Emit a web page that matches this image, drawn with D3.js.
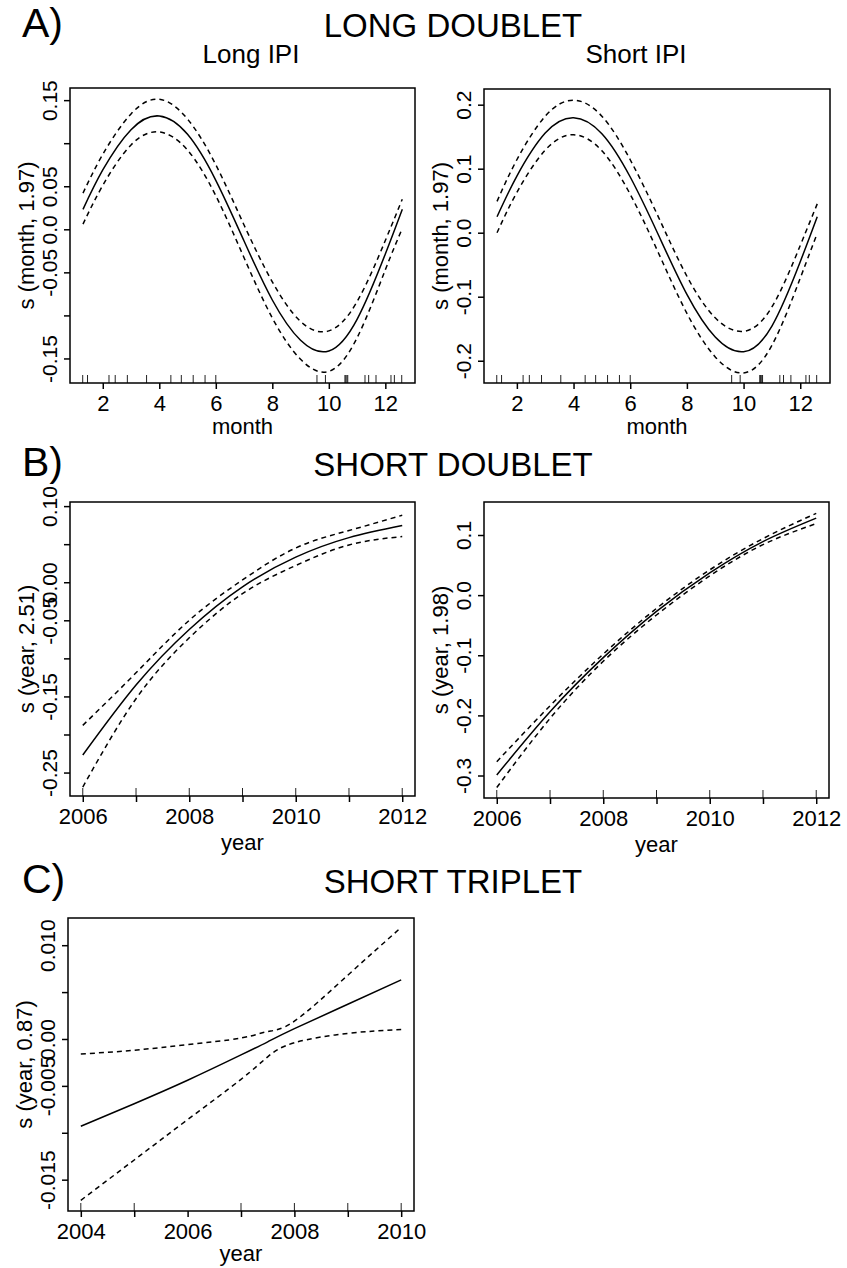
<!DOCTYPE html>
<html>
<head>
<meta charset="utf-8">
<script src="https://cdn.jsdelivr.net/npm/d3@7"></script>
<style>
  body { margin: 0; background: #fff; }
  text { font-family: "Liberation Sans", Arial, Helvetica, sans-serif; fill: #000; }
</style>
</head>
<body>
<div id="root"></div>
<script>
// DATA
// panel A : month smooths (long doublet)
const monthA = [1.3, 2, 3, 4, 5, 6, 7, 8, 9, 10, 11, 12, 12.6];
const longFit   = [0.0232, 0.0689, 0.1157, 0.1316, 0.1103, 0.0569, -0.0136, -0.0821, -0.1289, -0.1413, -0.1045, -0.0286, 0.0232];
const longUpper = [0.042, 0.087, 0.134, 0.151, 0.128, 0.075, 0.005, -0.061, -0.107, -0.118, -0.084, -0.013, 0.035];
const longLower = [0.006, 0.051, 0.098, 0.113, 0.092, 0.039, -0.033, -0.103, -0.151, -0.165, -0.126, -0.047, 0.001];
const shortFit   = [0.025, 0.0885, 0.1557, 0.1797, 0.1547, 0.087, -0.004, -0.0964, -0.163, -0.186, -0.1458, -0.0453, 0.025];
const shortUpper = [0.049, 0.114, 0.182, 0.207, 0.182, 0.114, 0.024, -0.068, -0.133, -0.154, -0.116, -0.02, 0.045];
const shortLower = [0.000, 0.063, 0.129, 0.153, 0.128, 0.06, -0.032, -0.126, -0.194, -0.219, -0.176, -0.071, -0.001];
const rugMonth = [1.29, 1.46, 2.22, 2.44, 2.87, 3.55, 4.41, 4.78, 5.2, 5.62, 6.0, 9.58, 9.88, 10.57, 10.6, 10.64, 10.67, 11.28, 11.41, 11.67, 12.2, 12.32, 12.58];

// panel B : year smooths (short doublet)
const yearB = [2006, 2007, 2008, 2009, 2010, 2011, 2012];
const sdLongFit   = [-0.227, -0.135, -0.062, -0.006, 0.033, 0.0586, 0.0744];
const sdLongUpper = [-0.188, -0.119, -0.050, 0.003, 0.045, 0.068, 0.088];
const sdLongLower = [-0.269, -0.153, -0.073, -0.015, 0.022, 0.049, 0.060];
const sdShortFit   = [-0.299, -0.194, -0.104, -0.027, 0.037, 0.089, 0.128];
const sdShortUpper = [-0.277, -0.184, -0.098, -0.022, 0.042, 0.094, 0.136];
const sdShortLower = [-0.320, -0.205, -0.110, -0.033, 0.032, 0.084, 0.119];
const rugYearB = [2006, 2007, 2008, 2009, 2010, 2011, 2012];

// panel C : year smooth (short triplet)
const yearC = [2004, 2005, 2006, 2007, 2007.5, 2008, 2009, 2010];
const stFit   = [-0.0093, -0.0069, -0.0044, -0.0017, -0.0003, 0.0011, 0.0037, 0.0063];
const stUpper = [-0.0016, -0.0012, -0.0006, 0.0001, 0.0008, 0.0019, 0.0068, 0.0119];
const stLower = [-0.0172, -0.0129, -0.0086, -0.0043, -0.0019, -0.0004, 0.0006, 0.0010];
const rugYearC = [2004, 2005, 2007, 2008, 2009, 2010];

// TICKS
const monthTicks = [2, 4, 6, 8, 10, 12];
const yearTicksB = [2006, 2007, 2008, 2009, 2010, 2011, 2012];
const yearLabelsB = ["2006", "", "2008", "", "2010", "", "2012"];
const yearTicksC = [2004, 2005, 2006, 2007, 2008, 2009, 2010];
const yearLabelsC = ["2004", "", "2006", "", "2008", "", "2010"];
const yTicksA1 = [-0.15, -0.10, -0.05, 0, 0.05, 0.10, 0.15];
const yLabelsA1 = ["-0.15", "", "-0.05", "0.0", "0.05", "", "0.15"];
const yTicksA2 = [-0.2, -0.1, 0, 0.1, 0.2];
const yLabelsA2 = ["-0.2", "-0.1", "0.0", "0.1", "0.2"];
const yTicksB1 = [-0.25, -0.20, -0.15, -0.10, -0.05, 0, 0.05, 0.10];
const yLabelsB1 = ["-0.25", "", "-0.15", "", "-0.05", "0.00", "", "0.10"];
const yTicksB2 = [-0.3, -0.2, -0.1, 0, 0.1];
const yLabelsB2 = ["-0.3", "-0.2", "-0.1", "0.0", "0.1"];
const yTicksC = [-0.015, -0.010, -0.005, 0, 0.005, 0.010];
const yLabelsC = ["-0.015", "", "-0.005", "0.00", "", "0.010"];

//SVG
const W = 847, H = 1268;
const svg = d3.select('#root').append('svg')
  .attr('width', W).attr('height', H);

function panel(p) {
  const x = d3.scaleLinear().domain(p.xDomain).range([p.x0, p.x1]);
  const y = d3.scaleLinear().domain(p.yDomain).range([p.y1, p.y0]);
  const g = svg.append('g');

  // x axis
  const xl = {};
  p.xTicks.forEach((t, i) => xl[t] = p.xLabels ? p.xLabels[i] : String(t));
  const xa = g.append('g')
    .attr('transform', `translate(0,${p.y1})`)
    .call(d3.axisBottom(x).tickValues(p.xTicks).tickSize(6).tickSizeOuter(0)
      .tickFormat(d => xl[d]));
  xa.select('.domain').remove();
  xa.selectAll('line').attr('stroke', '#000').attr('stroke-width', 1.5);
  xa.selectAll('text').attr('font-size', 22).attr('dy', 0).attr('y', 28)
    .attr('font-family', '"Liberation Sans", Arial, sans-serif');

  // y axis, rotated labels
  const yl = {};
  p.yTicks.forEach((t, i) => yl[t] = p.yLabels[i]);
  const ya = g.append('g')
    .attr('transform', `translate(${p.x0},0)`)
    .call(d3.axisLeft(y).tickValues(p.yTicks).tickSize(6).tickSizeOuter(0)
      .tickFormat(d => yl[d]));
  ya.select('.domain').remove();
  ya.selectAll('line').attr('stroke', '#000').attr('stroke-width', 1.5);
  ya.selectAll('text').attr('font-size', 21)
    .attr('font-family', '"Liberation Sans", Arial, sans-serif')
    .attr('text-anchor', 'middle').attr('dy', 0).attr('x', 0).attr('y', -13)
    .attr('transform', 'rotate(-90)');

  // rug
  g.append('g').selectAll('line').data(p.rug).join('line')
    .attr('x1', d => x(d)).attr('x2', d => x(d))
    .attr('y1', p.y1).attr('y2', p.y1 - 8)
    .attr('stroke', '#222').attr('stroke-width', 1);

  // curves
  const line = d3.line().x(d => x(d[0])).y(d => y(d[1])).curve(d3.curveNatural);
  const mk = arr => p.xs.map((v, i) => [v, arr[i]]);
  [[p.upper, '5,4'], [p.lower, '5,4'], [p.fit, null]].forEach(([arr, dash]) => {
    g.append('path').datum(mk(arr))
      .attr('fill', 'none').attr('stroke', '#000')
      .attr('stroke-width', 1.5)
      .attr('stroke-dasharray', dash)
      .attr('d', line);
  });

  // box
  g.append('rect')
    .attr('x', p.x0).attr('y', p.y0)
    .attr('width', p.x1 - p.x0).attr('height', p.y1 - p.y0)
    .attr('fill', 'none').attr('stroke', '#000').attr('stroke-width', 1.5);

  // axis titles
  g.append('text').attr('x', (p.x0 + p.x1) / 2).attr('y', p.y1 + p.xTitleOff)
    .attr('text-anchor', 'middle').attr('font-size', 22).text(p.xTitle);
  g.append('text')
    .attr('transform', `translate(${p.x0 - 36},${(p.y0 + p.y1) / 2}) rotate(-90)`)
    .attr('text-anchor', 'middle').attr('font-size', 22).text(p.yTitle);

  if (p.sub) {
    g.append('text').attr('x', p.subX).attr('y', 63)
      .attr('text-anchor', 'middle').attr('font-size', 26).text(p.sub);
  }
}

// PANEL A
panel({x0: 70, x1: 415, y0: 88, y1: 383, xDomain: [0.84, 13.05], yDomain: [-0.1785, 0.1641],
  xs: monthA, fit: longFit, upper: longUpper, lower: longLower, rug: rugMonth,
  xTicks: monthTicks, yTicks: yTicksA1, yLabels: yLabelsA1,
  xTitle: 'month', yTitle: 's (month, 1.97)', xTitleOff: 51, sub: 'Long IPI', subX: 251});
panel({x0: 484, x1: 830, y0: 89, y1: 383, xDomain: [0.84, 13.05], yDomain: [-0.2348, 0.2245],
  xs: monthA, fit: shortFit, upper: shortUpper, lower: shortLower, rug: rugMonth,
  xTicks: monthTicks, yTicks: yTicksA2, yLabels: yLabelsA2,
  xTitle: 'month', yTitle: 's (month, 1.97)', xTitleOff: 51, sub: 'Short IPI', subX: 636});

// PANEL B
panel({x0: 70, x1: 415, y0: 502, y1: 796, xDomain: [2005.76, 2012.24], yDomain: [-0.2808, 0.1054],
  xs: yearB, fit: sdLongFit, upper: sdLongUpper, lower: sdLongLower, rug: rugYearB,
  xTicks: yearTicksB, xLabels: yearLabelsB, yTicks: yTicksB1, yLabels: yLabelsB1,
  xTitle: 'year', yTitle: 's (year, 2.51)', xTitleOff: 54});
panel({x0: 484, x1: 829, y0: 502, y1: 798, xDomain: [2005.76, 2012.24], yDomain: [-0.3374, 0.1549],
  xs: yearB, fit: sdShortFit, upper: sdShortUpper, lower: sdShortLower, rug: rugYearB,
  xTicks: yearTicksB, xLabels: yearLabelsB, yTicks: yTicksB2, yLabels: yLabelsB2,
  xTitle: 'year', yTitle: 's (year, 1.98)', xTitleOff: 54});

// PANEL C
panel({x0: 68, x1: 414, y0: 918, y1: 1211, xDomain: [2003.76, 2010.24], yDomain: [-0.01834, 0.0129],
  xs: yearC, fit: stFit, upper: stUpper, lower: stLower, rug: rugYearC,
  xTicks: yearTicksC, xLabels: yearLabelsC, yTicks: yTicksC, yLabels: yLabelsC,
  xTitle: 'year', yTitle: 's (year, 0.87)', xTitleOff: 50});

// SECTION TITLES
const heads = [
  {tag: 'A)', title: 'LONG DOUBLET', y: 37},
  {tag: 'B)', title: 'SHORT DOUBLET', y: 476},
  {tag: 'C)', title: 'SHORT TRIPLET', y: 893}
];
heads.forEach(h => {
  svg.append('text').attr('x', 22).attr('y', h.y).attr('font-size', 41).text(h.tag);
  svg.append('text').attr('x', 453).attr('y', h.y).attr('text-anchor', 'middle')
    .attr('font-size', 33).text(h.title);
});
</script>
</body>
</html>
